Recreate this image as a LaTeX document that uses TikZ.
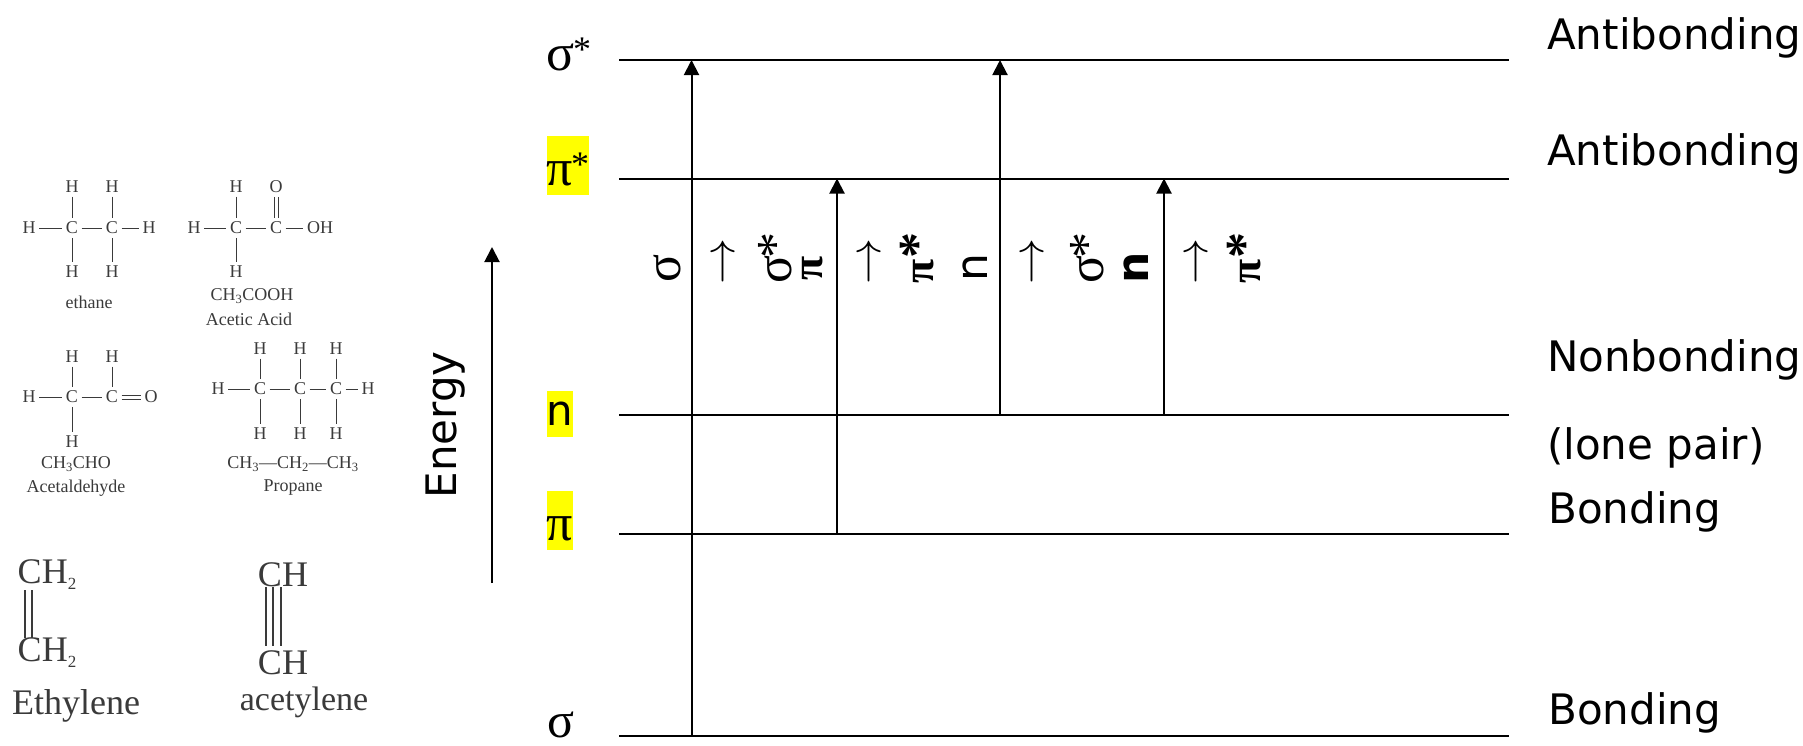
\documentclass[tikz,border=0pt]{standalone}
\usepackage{fontspec}
\setmainfont{Liberation Serif}
\setsansfont{DejaVu Sans}
\usepackage{xcolor}
\usetikzlibrary{positioning,arrows.meta,calc}
\definecolor{inkgray}{HTML}{3A3A3A}
\definecolor{hlyellow}{HTML}{FFFF00}
% stars and subscripts are not at their usual sizes here
\newcommand{\upstar}{\kern-4pt\raisebox{-1pt}{*}}
\newcommand{\boldstar}{\raisebox{-1pt}{\fontsize{52}{54}\selectfont *}}
\newcommand{\orbstar}{\kern-2pt\raisebox{9pt}[0pt][0pt]{\fontsize{36}{36}\selectfont *}}
\newcommand{\subtwo}{\raisebox{-6pt}{\fontsize{17}{17}\selectfont 2}}
\newcommand{\lowered}[1]{\raisebox{-20pt}[20pt][20pt]{#1}}
\tikzset{
  >={Triangle[length=15pt,width=15pt]},
  atom/.style={font=\fontsize{18}{20}\selectfont, text=inkgray, inner sep=3.5pt, on grid},
  bond/.style={draw=inkgray, line width=1pt},
  thickbond/.style={draw=inkgray, line width=2pt},
  capt/.style={font=\fontsize{18}{20}\selectfont, text=inkgray, inner sep=0pt},
  bigcapt/.style={font=\fontsize{36}{38}\selectfont, text=inkgray, inner sep=0pt},
  level/.style={line width=2pt, draw=black},
  flow/.style={->, line width=2pt, draw=black},
  orb/.style={font=\fontsize{52}{54}\selectfont, inner sep=0pt},
  hl/.style={orb, fill=hlyellow},
  vert/.style={font=\fontsize{52}{54}\selectfont, inner sep=0pt, rotate=90},
  vertb/.style={vert, font=\bfseries\fontsize{44}{46}\selectfont},
  vertn/.style={vert, font=\sffamily\fontsize{44}{46}\selectfont},
  varrow/.style={inner sep=0pt, rotate=90, scale=1.85, font=\fontsize{24.88}{26}\selectfont},
  kind/.style={font=\sffamily\fontsize{42}{44}\selectfont, inner sep=0pt, anchor=west},
}
\begin{document}
\begin{tikzpicture}[x=1pt,y=-1pt]
  \useasboundingbox (0,0) rectangle (1803,745);

  % ethane
  \node[atom] (ea) at (72,228) {C};
  \node[atom, right=40pt of ea] (eb) {C};
  \node[atom, left=43pt of ea] (el) {H};
  \node[atom, right=37pt of eb] (er) {H};
  \node[atom, above=41pt of ea] (eat) {H};
  \node[atom, above=41pt of eb] (ebt) {H};
  \node[atom, below=44pt of ea] (eab) {H};
  \node[atom, below=44pt of eb] (ebb) {H};
  \draw[bond] (el) -- (ea); \draw[bond] (ea) -- (eb); \draw[bond] (eb) -- (er);
  \draw[bond] (eat) -- (ea); \draw[bond] (ebt) -- (eb);
  \draw[bond] (ea) -- (eab); \draw[bond] (eb) -- (ebb);
  \node[capt] (ename) at (89,302) {ethane};

  % acetic acid
  \node[atom] (aa) at (236,228) {C};
  \node[atom, right=40pt of aa] (ab) {C};
  \node[atom, left=42pt of aa] (al) {H};
  \node[atom, right=44pt of ab] (ar) {OH};
  \node[atom, above=41pt of aa] (aat) {H};
  \node[atom, above=41pt of ab] (abt) {O};
  \node[atom, below=44pt of aa] (aab) {H};
  \draw[bond] (al) -- (aa); \draw[bond] (aa) -- (ab); \draw[bond] (ab) -- (ar);
  \draw[bond] (aat) -- (aa); \draw[bond] (aa) -- (aab);
  \draw[bond] ([xshift=-2pt]abt.south) -- ([xshift=-2pt]ab.north);
  \draw[bond] ([xshift=2pt]abt.south) -- ([xshift=2pt]ab.north);
  \node[capt] (aform) at (252,296) {CH\textsubscript{3}COOH};
  \node[capt] (aname) at (249,319) {Acetic Acid};

  % acetaldehyde
  \node[atom] (da) at (72,397) {C};
  \node[atom, right=40pt of da] (db) {C};
  \node[atom, left=43pt of da] (dl) {H};
  \node[atom, right=39pt of db] (dr) {O};
  \node[atom, above=40pt of da] (dat) {H};
  \node[atom, above=40pt of db] (dbt) {H};
  \node[atom, below=45pt of da] (dab) {H};
  \draw[bond] (dl) -- (da); \draw[bond] (da) -- (db);
  \draw[bond] (dat) -- (da); \draw[bond] (dbt) -- (db); \draw[bond] (da) -- (dab);
  \draw[bond] ([yshift=2pt]db.east) -- ([yshift=2pt]dr.west);
  \draw[bond] ([yshift=-2pt]db.east) -- ([yshift=-2pt]dr.west);
  \node[capt] (dform) at (76,464) {CH\textsubscript{3}CHO};
  \node[capt] (dname) at (76,488) {Acetaldehyde};

  % propane
  \node[atom] (pa) at (260,389) {C};
  \node[atom, right=40pt of pa] (pb) {C};
  \node[atom, right=36pt of pb] (pc) {C};
  \node[atom, left=42pt of pa] (pl) {H};
  \node[atom, right=32pt of pc] (pr) {H};
  \foreach \c in {a,b,c} {
    \node[atom, above=40pt of p\c] (p\c t) {H};
    \node[atom, below=45pt of p\c] (p\c d) {H};
    \draw[bond] (p\c t) -- (p\c);
    \draw[bond] (p\c) -- (p\c d);
  }
  \draw[bond] (pl) -- (pa); \draw[bond] (pa) -- (pb);
  \draw[bond] (pb) -- (pc); \draw[bond] (pc) -- (pr);
  \node[capt] (pform) at (293,464) {CH\textsubscript{3}---CH\textsubscript{2}---CH\textsubscript{3}};
  \node[capt] (pname) at (293,488) {Propane};

  % ethylene, acetylene
  \node[bigcapt] (ytop) at (47,575) {CH\subtwo};
  \node[bigcapt] (ybot) at (47,653) {CH\subtwo};
  \node[bigcapt] (yname) at (76,706) {Ethylene};
  \draw[thickbond] ([xshift=-22pt]ytop.south) -- ([xshift=-22pt]ybot.north);
  \draw[thickbond] ([xshift=-15pt]ytop.south) -- ([xshift=-15pt]ybot.north);
  \node[bigcapt] (ctop) at (283,575) {CH};
  \node[bigcapt] (cbot) at (283,663) {CH};
  \node[bigcapt, font=\fontsize{34}{36}\selectfont] (cname) at (304,702) {acetylene};
  \foreach \s in {-17,-10,-2}
    \draw[thickbond] ([xshift=\s pt]ctop.south) -- ([xshift=\s pt, yshift=5pt]cbot.north);

  % energy axis
  \node[vertn, font=\sffamily\fontsize{42}{44}\selectfont] (energy) at (446,425) {Energy};
  \coordinate (ebase) at (492,583);
  \coordinate (ehead) at (492,247);
  \draw[flow] (ebase) -- (ehead);

  % levels
  \foreach \name/\ypos in {sgs/60, pis/178.5, n/415, pi/534, sg/736} {
    \coordinate (\name L) at (619,\ypos);
    \coordinate (\name R) at (1509,\ypos);
    \draw[level] (\name L) -- (\name R);
  }
  \node[orb] (lsgs) at (569,57) {σ\orbstar};
  \node[hl, minimum width=42pt, minimum height=59pt] (lpis) at (568,165.5) {\lowered{π\orbstar}};
  \node[hl, minimum width=26pt, minimum height=46pt, font=\sffamily\fontsize{42}{44}\selectfont] (ln) at (560,414) {n};
  \node[hl, minimum width=26pt, minimum height=59pt] (lpi) at (560,520.5) {\lowered{π}};
  \node[orb, font=\fontsize{50}{52}\selectfont] (lsg) at (561,725) {σ};

  % transitions
  \foreach \xa/\from/\to in {691.5/sg/sgs, 837/pi/pis, 1000/n/sgs, 1164/n/pis} {
    \coordinate (t\from\to) at (\xa,0);
    \draw[flow] (t\from\to |- \from L) -- (t\from\to |- \to L);
  }

  % labels of the transitions
  \node[vert] (a1) at (667,268) {σ};
  \node[varrow] (a2) at (726,261) {$\rightarrow$};
  \node[vert] (a3) at (775,258) {σ\upstar};
  \node[vertb] (b1) at (813,268) {π};
  \node[varrow] (b2) at (872,261) {$\rightarrow$};
  \node[vertb] (b3) at (917,258) {π\boldstar};
  \node[vertn] (c1) at (975,268) {n};
  \node[varrow] (c2) at (1035,261) {$\rightarrow$};
  \node[vert] (c3) at (1087,258) {σ\upstar};
  \node[vertn, font=\sffamily\bfseries\fontsize{44}{46}\selectfont] (d1) at (1136,268) {n};
  \node[varrow] (d2) at (1199,261) {$\rightarrow$};
  \node[vertb] (d3) at (1244,258) {π\boldstar};

  % kinds of orbital
  \node[kind] (k1) at (1547,38) {Antibonding};
  \node[kind] (k2) at (1547,154) {Antibonding};
  \node[kind] (k3) at (1547,360) {Nonbonding};
  \node[kind] (k4) at (1547,448) {(lone pair)};
  \node[kind] (k5) at (1548,512) {Bonding};
  \node[kind] (k6) at (1548,713) {Bonding};
\end{tikzpicture}
\end{document}
